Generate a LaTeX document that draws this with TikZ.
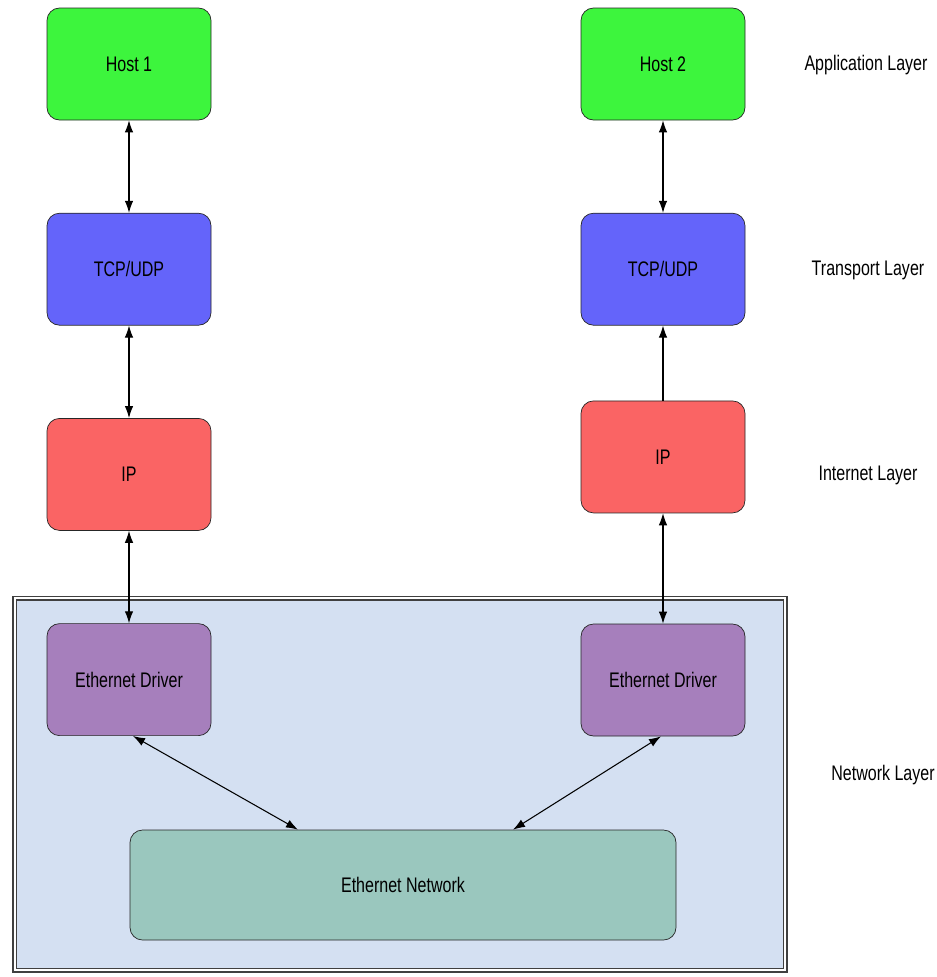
\documentclass[tikz,border=0pt]{standalone}
\usepackage{fontspec}
\setmainfont{Liberation Sans}[FakeStretch=0.76]
\usepackage{tikz}
\usetikzlibrary{arrows.meta,positioning}

\definecolor{hostgreen}{HTML}{3DF53D}
\definecolor{tcpblue}{HTML}{6464FA}
\definecolor{ipred}{HTML}{FA6464}
\definecolor{drvpurple}{HTML}{A67FBC}
\definecolor{netteal}{HTML}{9AC7BE}
\definecolor{netbg}{HTML}{D4E0F2}

\begin{document}
\begin{tikzpicture}[
    font=\fontsize{12}{14}\selectfont,
    node distance=1.85cm,
    layer/.style={draw=black!85, rounded corners=0.25cm, minimum width=3.28cm, minimum height=2.24cm, align=center, inner sep=0pt},
    arrow/.style={{Latex[length=2.4mm,width=1.7mm]}-{Latex[length=2.4mm,width=1.7mm]}, semithick},
    uparrow/.style={-{Latex[length=2.4mm,width=1.7mm]}, semithick},
]
    \useasboundingbox (0,0) rectangle (18.74,-19.54);

    % network layer background (double frame)
    \draw[black!75, line width=0.7pt] (0.26,-11.93) rectangle (15.74,-19.44);
    \draw[black!75, line width=0.7pt, fill=netbg] (0.33,-12.00) rectangle (15.67,-19.37);

    % left stack
    \node[layer, fill=hostgreen] (host1) at (2.58,-1.28) {Host 1};
    \node[layer, fill=tcpblue, below=of host1] (tcp1) {TCP/UDP};
    \node[layer, fill=ipred, below=of tcp1] (ip1) {IP};
    \node[layer, fill=drvpurple, below=of ip1] (drv1) {Ethernet Driver};

    % right stack
    \node[layer, fill=hostgreen] (host2) at (13.26,-1.28) {Host 2};
    \node[layer, fill=tcpblue, below=of host2] (tcp2) {TCP/UDP};
    \node[layer, fill=ipred, below=1.5cm of tcp2] (ip2) {IP};
    \node[layer, fill=drvpurple] (drv2) at (13.26,-13.6) {Ethernet Driver};

    \node[layer, fill=netteal, minimum width=10.92cm, minimum height=2.2cm] (net) at (8.06,-17.7) {Ethernet Network};

    % layer names
    \node (app) at (17.32,-1.30) {Application Layer};
    \node (trans) at (17.36,-5.40) {Transport Layer};
    \node (inet) at (17.36,-9.50) {Internet Layer};
    \node (netl) at (17.66,-15.50) {Network Layer};

    \draw[arrow] (host1) -- (tcp1);
    \draw[arrow] (tcp1) -- (ip1);
    \draw[arrow] (ip1) -- (drv1);
    \draw[arrow] (host2) -- (tcp2);
    \draw[uparrow] (ip2) -- (tcp2);
    \draw[arrow] (ip2) -- (drv2);

    \path (drv1.south) ++(0.08,0) coordinate (d1) (net.north) ++(-2.1,0) coordinate (n1);
    \draw[arrow] (d1) -- (n1);
    \path (drv2.south) ++(-0.04,0) coordinate (d2) (net.north) ++(2.2,0) coordinate (n2);
    \draw[arrow] (d2) -- (n2);
\end{tikzpicture}
\end{document}
